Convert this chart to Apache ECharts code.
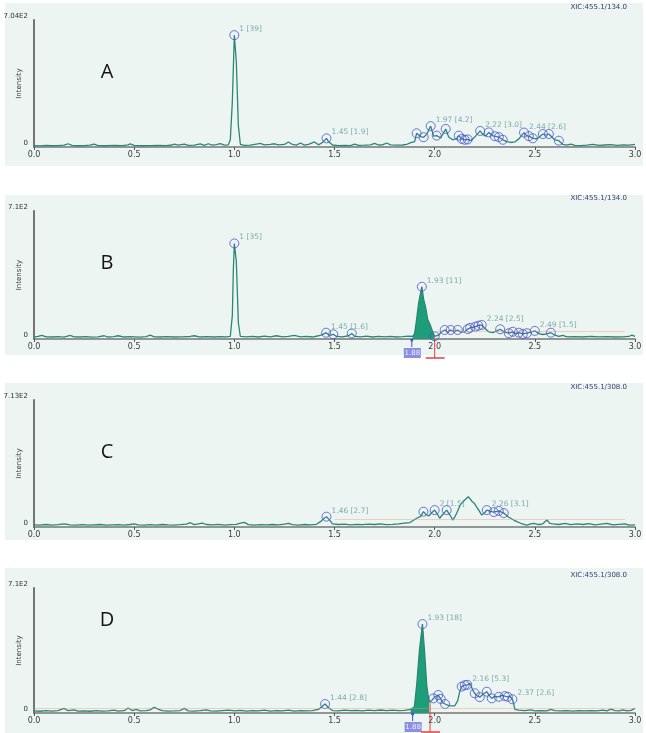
<!DOCTYPE html>
<html>
<head>
<meta charset="utf-8">
<script src="https://cdn.jsdelivr.net/npm/echarts@6/dist/echarts.min.js"></script>
<style>html,body{margin:0;padding:0;background:#fff}#chart{width:646px;height:733px}</style>
</head>
<body>
<div id="chart"></div>
<script>
// ---------- DATA ----------
const panelLetters = ['A', 'B', 'C', 'D'];
const xicLabels = ['XIC:455.1/134.0', 'XIC:455.1/134.0', 'XIC:455.1/308.0', 'XIC:455.1/308.0'];
const yMaxValues = [704, 710, 713, 710];
const yTopLabels = ['7.04E2', '7.1E2', '7.13E2', '7.1E2'];
const xTickLabels = ['0.0', '0.5', '1.0', '1.5', '2.0', '2.5', '3.0'];

const traceA = [[0.00,8],[0.03,6],[0.06,9],[0.09,7],[0.12,8],[0.15,10],[0.17,18],[0.19,9],[0.22,7],[0.25,8],[0.28,10],[0.30,16],[0.32,8],[0.36,7],[0.40,9],[0.44,8],[0.47,12],[0.48,17],[0.50,9],[0.54,7],[0.58,8],[0.62,9],[0.66,8],[0.69,11],[0.70,16],[0.72,10],[0.75,16],[0.77,9],[0.80,10],[0.83,17],[0.85,9],[0.87,18],[0.89,10],[0.91,13],[0.93,19],[0.95,10],[0.97,12],[0.98,40],[0.99,250],[1.00,620],[1.01,470],[1.02,120],[1.03,15],[1.05,9],[1.08,10],[1.11,16],[1.13,20],[1.15,12],[1.18,14],[1.20,18],[1.22,12],[1.25,14],[1.27,28],[1.29,14],[1.31,10],[1.33,22],[1.35,10],[1.37,15],[1.40,28],[1.42,12],[1.44,25],[1.46,48],[1.47,30],[1.49,11],[1.52,8],[1.55,9],[1.58,8],[1.60,16],[1.62,9],[1.65,10],[1.68,12],[1.70,20],[1.72,11],[1.74,12],[1.76,22],[1.78,12],[1.81,10],[1.84,11],[1.86,14],[1.88,24],[1.90,30],[1.91,76],[1.93,58],[1.945,54],[1.96,70],[1.98,116],[1.995,60],[2.01,63],[2.03,50],[2.055,100],[2.07,55],[2.09,40],[2.11,48],[2.12,63],[2.135,45],[2.15,40],[2.165,42],[2.18,35],[2.20,55],[2.227,89],[2.24,70],[2.255,60],[2.27,81],[2.29,62],[2.30,60],[2.32,55],[2.34,40],[2.36,30],[2.38,25],[2.40,28],[2.42,45],[2.446,80],[2.46,62],[2.47,60],[2.49,48],[2.51,45],[2.54,72],[2.555,65],[2.57,72],[2.59,50],[2.60,40],[2.62,35],[2.64,14],[2.66,10],[2.68,16],[2.70,9],[2.73,8],[2.76,10],[2.79,14],[2.82,9],[2.85,11],[2.88,13],[2.91,9],[2.94,12],[2.97,10],[3.00,15]];
const peaksA = [[1.0,620,'1 [39]'],[1.46,48,'1.45 [1.9]'],[1.91,76,''],[1.945,54,''],[1.98,116,'1.97 [4.2]'],[2.01,63,''],[2.055,100,''],[2.12,63,''],[2.135,45,''],[2.15,40,''],[2.165,42,''],[2.227,89,'2.22 [3.0]'],[2.27,81,''],[2.30,60,''],[2.32,55,''],[2.34,40,''],[2.446,80,'2.44 [2.6]'],[2.47,60,''],[2.49,48,''],[2.54,72,''],[2.57,72,''],[2.62,35,'']];

const traceB = [[0.00,10],[0.02,14],[0.04,20],[0.06,12],[0.09,11],[0.12,13],[0.15,10],[0.18,20],[0.20,12],[0.23,11],[0.26,13],[0.29,10],[0.32,12],[0.35,18],[0.37,11],[0.40,13],[0.42,18],[0.45,11],[0.48,13],[0.50,12],[0.53,10],[0.56,13],[0.58,21],[0.60,12],[0.63,11],[0.66,13],[0.70,11],[0.74,12],[0.78,14],[0.80,18],[0.83,11],[0.86,13],[0.90,11],[0.93,13],[0.96,12],[0.98,15],[0.99,130],[0.995,380],[1.00,530],[1.01,430],[1.02,90],[1.03,14],[1.06,12],[1.09,15],[1.12,11],[1.15,16],[1.18,12],[1.21,18],[1.24,12],[1.27,14],[1.30,20],[1.33,12],[1.36,15],[1.39,11],[1.42,18],[1.44,24],[1.458,35],[1.475,20],[1.494,26],[1.51,14],[1.54,12],[1.57,18],[1.586,31],[1.60,15],[1.63,12],[1.66,16],[1.69,11],[1.72,14],[1.75,12],[1.78,15],[1.81,11],[1.84,13],[1.87,16],[1.89,14],[1.90,30],[1.91,110],[1.92,200],[1.936,290],[1.945,220],[1.955,175],[1.965,110],[1.977,80],[1.99,40],[2.00,15],[2.02,22],[2.035,40],[2.05,50],[2.065,38],[2.08,50],[2.095,40],[2.115,50],[2.13,38],[2.15,40],[2.165,55],[2.177,62],[2.202,68],[2.218,74],[2.235,78],[2.25,60],[2.27,40],[2.29,35],[2.31,45],[2.327,54],[2.345,40],[2.36,35],[2.37,32],[2.39,40],[2.405,30],[2.42,35],[2.44,28],[2.46,32],[2.48,38],[2.50,45],[2.52,30],[2.54,25],[2.56,28],[2.58,35],[2.60,22],[2.62,14],[2.64,20],[2.66,12],[2.70,13],[2.74,11],[2.78,14],[2.82,12],[2.86,13],[2.90,11],[2.94,12],[2.97,14],[2.985,22],[3.00,15]];
const peaksB = [[1.0,530,'1 [35]'],[1.458,35,'1.45 [1.6]'],[1.494,26,''],[1.586,31,''],[1.936,290,'1.93 [11]'],[2.0,15,''],[2.05,50,''],[2.08,50,''],[2.115,50,''],[2.165,55,''],[2.177,62,''],[2.202,68,''],[2.218,74,''],[2.235,78,'2.24 [2.5]'],[2.327,54,''],[2.37,32,''],[2.39,40,''],[2.42,35,''],[2.44,28,''],[2.46,32,''],[2.50,45,'2.49 [1.5]'],[2.58,35,'']];
const integrationB = [1.89, 2.0];

const traceC = [[0.00,12],[0.03,10],[0.06,14],[0.09,11],[0.12,13],[0.15,17],[0.18,12],[0.21,11],[0.24,13],[0.27,10],[0.30,12],[0.33,14],[0.36,11],[0.39,12],[0.42,13],[0.45,11],[0.48,14],[0.50,18],[0.52,12],[0.55,11],[0.58,13],[0.61,11],[0.64,14],[0.67,12],[0.70,11],[0.73,13],[0.76,16],[0.78,24],[0.80,13],[0.82,17],[0.84,22],[0.86,14],[0.89,12],[0.92,15],[0.95,11],[0.98,13],[1.01,15],[1.03,22],[1.05,26],[1.07,13],[1.10,11],[1.13,13],[1.16,12],[1.19,14],[1.22,12],[1.25,16],[1.27,20],[1.29,13],[1.32,11],[1.35,14],[1.38,12],[1.41,15],[1.43,30],[1.45,50],[1.46,58],[1.475,40],[1.49,18],[1.52,14],[1.55,16],[1.58,12],[1.61,15],[1.64,13],[1.67,16],[1.70,14],[1.73,17],[1.76,13],[1.79,15],[1.82,18],[1.85,22],[1.877,25],[1.89,35],[1.91,49],[1.93,60],[1.944,86],[1.957,70],[1.97,62],[1.985,80],[2.00,95],[2.015,70],[2.025,49],[2.04,70],[2.06,95],[2.075,70],[2.09,39],[2.10,55],[2.115,90],[2.127,123],[2.145,146],[2.168,170],[2.185,146],[2.20,130],[2.21,112],[2.22,95],[2.235,67],[2.25,80],[2.26,95],[2.28,88],[2.295,84],[2.32,90],[2.345,78],[2.37,55],[2.395,39],[2.41,30],[2.43,21],[2.45,14],[2.46,11],[2.48,17],[2.495,21],[2.52,14],[2.54,18],[2.56,39],[2.575,20],[2.59,17],[2.62,14],[2.65,20],[2.68,13],[2.71,18],[2.74,14],[2.77,19],[2.80,12],[2.83,16],[2.86,20],[2.89,12],[2.92,15],[2.95,18],[2.97,10],[3.00,12]];
const peaksC = [[1.46,58,'1.46 [2.7]'],[1.944,86,''],[2.0,95,'2 [1.5]'],[2.06,95,''],[2.26,95,'2.26 [3.1]'],[2.295,84,''],[2.32,90,''],[2.345,78,'']];

const traceD = [[0.00,12],[0.03,10],[0.06,13],[0.09,11],[0.12,14],[0.15,26],[0.17,13],[0.20,18],[0.22,11],[0.25,12],[0.28,10],[0.31,13],[0.34,11],[0.37,12],[0.40,16],[0.42,11],[0.45,13],[0.47,28],[0.49,14],[0.51,20],[0.53,12],[0.56,13],[0.58,18],[0.60,32],[0.62,22],[0.64,13],[0.67,11],[0.70,12],[0.73,14],[0.75,26],[0.77,12],[0.80,11],[0.83,13],[0.86,18],[0.88,12],[0.91,11],[0.94,14],[0.97,16],[1.00,12],[1.03,15],[1.06,11],[1.09,14],[1.12,12],[1.15,16],[1.18,11],[1.21,13],[1.24,12],[1.27,16],[1.30,11],[1.33,13],[1.36,12],[1.39,14],[1.42,20],[1.44,40],[1.453,51],[1.47,30],[1.49,14],[1.52,12],[1.55,16],[1.58,13],[1.61,15],[1.64,12],[1.67,16],[1.70,13],[1.73,17],[1.76,14],[1.79,16],[1.82,13],[1.85,15],[1.88,20],[1.899,36],[1.911,169],[1.924,358],[1.939,505],[1.949,358],[1.961,150],[1.972,64],[1.985,70],[1.994,83],[2.005,95],[2.018,102],[2.03,80],[2.04,60],[2.052,51],[2.07,42],[2.085,40],[2.10,40],[2.115,70],[2.125,120],[2.135,150],[2.14,152],[2.15,158],[2.163,160],[2.177,168],[2.19,130],[2.20,112],[2.212,98],[2.225,90],[2.24,105],[2.26,121],[2.272,100],[2.285,83],[2.30,95],[2.32,92],[2.335,100],[2.35,96],[2.365,92],[2.375,95],[2.388,78],[2.395,50],[2.40,20],[2.42,16],[2.45,14],[2.48,18],[2.50,12],[2.53,14],[2.56,12],[2.58,20],[2.60,13],[2.63,12],[2.66,14],[2.69,11],[2.72,13],[2.75,12],[2.78,14],[2.81,12],[2.84,16],[2.86,12],[2.88,22],[2.90,14],[2.92,12],[2.94,18],[2.96,12],[2.98,15],[3.00,26]];
const peaksD = [[1.453,51,'1.44 [2.8]'],[1.939,505,'1.93 [18]'],[1.994,83,''],[2.018,102,''],[2.03,80,''],[2.052,51,''],[2.135,150,''],[2.15,158,''],[2.163,160,'2.16 [5.3]'],[2.20,112,''],[2.225,90,''],[2.26,121,''],[2.285,83,''],[2.32,92,''],[2.35,96,''],[2.365,92,''],[2.388,78,'2.37 [2.6]']];
const integrationD = [1.88, 1.972];

// integration markers (start label / end marker) and threshold lines
const startMarkB = [1.886, '1.88'], endMarkB = 2.0;
const startMarkD = [1.89, '1.88'], endMarkD = 1.977;
const thresholdB = [2.0, 2.95, 42];
const thresholdC = [1.5, 2.95, 45];
const thresholdD = [0.0, 3.0, 28];

// ---------- CHART ----------
const traces = [traceA, traceB, traceC, traceD];
const peaks = [peaksA, peaksB, peaksC, peaksD];
const integrations = [null, integrationB, null, integrationD];
const thresholds = [null, thresholdB, thresholdC, thresholdD];
const gridBoxes = [
  {top: 20, height: 127},
  {top: 211, height: 128},
  {top: 400, height: 127},
  {top: 588, height: 125}
];
const bgBoxes = [[3, 163], [195, 160], [383, 157], [568, 165]];

const chart = echarts.init(document.getElementById('chart'), null, {renderer: 'canvas'});
const FONT = 'DejaVu Sans';

const grids = gridBoxes.map(g => ({left: 34, width: 601, top: g.top, height: g.height,
  containLabel: false, outerBoundsMode: 'none'}));
const xAxes = gridBoxes.map((g, i) => ({
  type: 'value', gridIndex: i, min: 0, max: 3, interval: 0.5,
  axisLine: {show: true, lineStyle: {color: '#777', width: 1.6}},
  axisTick: {show: true, length: 3, lineStyle: {color: '#555'}},
  splitLine: {show: false},
  axisLabel: {fontSize: 8, color: '#3a3a3a', margin: 4, fontFamily: FONT,
    formatter: v => xTickLabels[Math.round(v / 0.5)] || ''}
}));
const yAxes = gridBoxes.map((g, i) => ({
  type: 'value', gridIndex: i, min: 0, max: yMaxValues[i], interval: yMaxValues[i],
  name: 'Intensity', nameLocation: 'middle', nameGap: 11, nameRotate: 90,
  nameMoveOverlap: false,
  nameTextStyle: {fontSize: 7, color: '#333', fontFamily: FONT},
  axisLine: {show: true, lineStyle: {color: '#666', width: 1.8}},
  axisTick: {show: false},
  splitLine: {show: false},
  axisLabel: {fontSize: 7, color: '#333', margin: 6, fontFamily: FONT, verticalAlign: 'bottom',
    formatter: v => v === 0 ? '0' : yTopLabels[i]}
}));

const series = [];
traces.forEach((tr, i) => {
  const integ = integrations[i];
  if (integ) {
    series.push({
      type: 'line', xAxisIndex: i, yAxisIndex: i, z: 2,
      data: tr.filter(p => p[0] >= integ[0] && p[0] <= integ[1]),
      showSymbol: false, symbol: 'none',
      lineStyle: {width: 0},
      areaStyle: {color: '#1d9e78', opacity: 1},
      silent: true
    });
  }
  const th = thresholds[i];
  series.push({
    type: 'line', xAxisIndex: i, yAxisIndex: i, z: 3,
    data: tr, showSymbol: false, symbol: 'none',
    lineStyle: {color: '#2b8676', width: 1.3},
    silent: true,
    markLine: th ? {
      silent: true, symbol: 'none', label: {show: false},
      lineStyle: {color: 'rgba(235,150,110,0.4)', width: 1, type: 'solid'},
      data: [[{coord: [th[0], th[2]]}, {coord: [th[1], th[2]]}]]
    } : undefined
  });
  series.push({
    type: 'scatter', xAxisIndex: i, yAxisIndex: i, z: 4,
    symbol: 'circle', symbolSize: 9,
    itemStyle: {color: 'rgba(0,0,0,0)', borderColor: '#4b4fd6', borderWidth: 1},
    data: peaks[i].map(p => ({value: [p[0], p[1]], name: p[2],
      label: {show: p[2] !== ''}})),
    label: {position: 'right', distance: 0, offset: [0, -6], fontSize: 7.5,
      color: '#5f9a98', fontFamily: FONT, formatter: p => p.name},
    silent: true
  });
});

chart.setOption({
  animation: false,
  backgroundColor: '#ffffff',
  grid: grids, xAxis: xAxes, yAxis: yAxes, series: series
});

// ---------- decorations (positions from axes) ----------
const gfx = [];
bgBoxes.forEach(b => gfx.push({type: 'rect', z: -10, silent: true,
  shape: {x: 5, y: b[0], width: 638, height: b[1]}, style: {fill: '#edf5f3'}}));
gridBoxes.forEach((g, i) => {
  gfx.push({type: 'text', z: 10, silent: true, style: {text: panelLetters[i], x: 107, y: g.top + (i === 3 ? 32 : 52),
    font: '20px "Open Sans"', fill: '#151515', textAlign: 'center', textVerticalAlign: 'middle'}});
  gfx.push({type: 'text', z: 10, silent: true, style: {text: xicLabels[i], x: 627, y: g.top - 13,
    font: '7px "DejaVu Sans"', fill: '#34406e', textAlign: 'right', textVerticalAlign: 'middle'}});
});
function addMarks(gi, start, endX, endFromCurve) {
  const s = chart.convertToPixel({gridIndex: gi}, [start[0], 0]);
  const e = chart.convertToPixel({gridIndex: gi}, [endX, 0]);
  const axisY = gridBoxes[gi].top + gridBoxes[gi].height;
  gfx.push({type: 'line', z: 10, silent: true, shape: {x1: s[0], y1: axisY, x2: s[0], y2: axisY + 8}, style: {stroke: '#3a4fd0', lineWidth: 1}});
  gfx.push({type: 'circle', z: 10, silent: true, shape: {cx: s[0], cy: axisY + 1, r: 1.5}, style: {fill: '#3a4fd0'}});
  gfx.push({type: 'rect', z: 10, silent: true, shape: {x: s[0] - 8, y: axisY + 9, width: 17, height: 10}, style: {fill: '#8b8fe0'}});
  gfx.push({type: 'text', z: 11, silent: true, style: {text: start[1], x: s[0] + 0.5, y: axisY + 14, font: '7px "DejaVu Sans"', fill: '#eef', textAlign: 'center', textVerticalAlign: 'middle'}});
  const topY = endFromCurve ? chart.convertToPixel({gridIndex: gi}, [endX, endFromCurve])[1] : axisY;
  gfx.push({type: 'line', z: 10, silent: true, shape: {x1: e[0], y1: topY, x2: e[0], y2: axisY + 19}, style: {stroke: '#e04040', lineWidth: 1}});
  gfx.push({type: 'line', z: 10, silent: true, shape: {x1: e[0] - 9, y1: axisY + 19, x2: e[0] + 10, y2: axisY + 19}, style: {stroke: '#e04040', lineWidth: 1.5}});
}
addMarks(1, startMarkB, endMarkB, null);
addMarks(3, startMarkD, endMarkD, 64);
chart.setOption({graphic: gfx});
</script>
</body>
</html>
